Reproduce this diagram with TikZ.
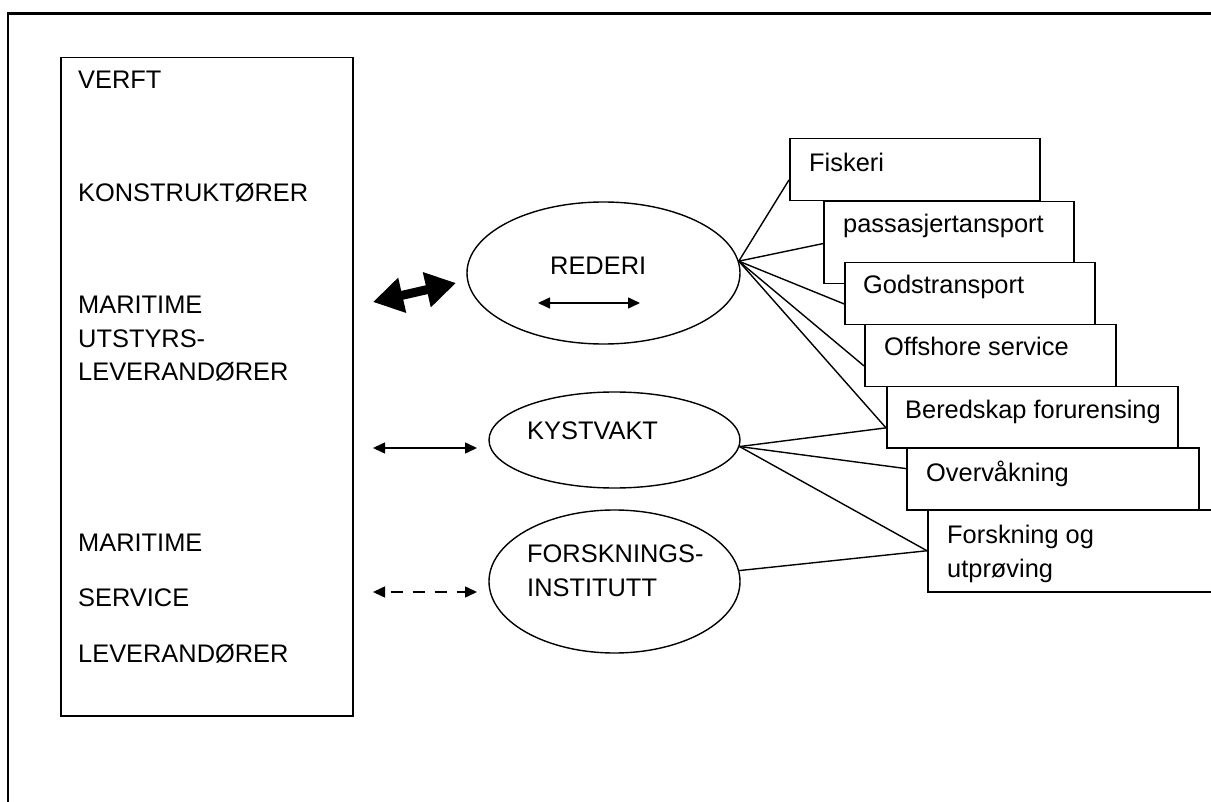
\documentclass[tikz,border=0pt]{standalone}
\usepackage{fontspec}
\setmainfont{Liberation Sans}
\usetikzlibrary{arrows.meta,calc,shapes.geometric}
\begin{document}
\begin{tikzpicture}[x=1pt,y=-1pt,
  txt/.style={inner sep=0pt, anchor=base west, font=\fontsize{25.4}{34}\selectfont},
  rbox/.style={draw, fill=white, line width=1.5pt, rectangle, inner sep=0pt, anchor=north west, minimum height=62pt},
  oval/.style={draw, ellipse, line width=1.4pt, inner sep=0pt},
  conn/.style={line width=1.4pt},
  biarrow/.style={line width=1.5pt, {Triangle[length=12pt,width=11pt]}-{Triangle[length=12pt,width=11pt]}}]
\clip (0,0) rectangle (1211,802);
\fill[white] (0,0) rectangle (1211,802);
% outer frame
\coordinate (ftl) at (8,13.5);
\coordinate (ftr) at (1220,13.5);
\coordinate (fbl) at (8,810);
\draw[line width=2.5pt] (ftr) -- (ftl) -- (fbl);
% left box
\node[draw, line width=1.5pt, inner sep=0pt, anchor=north west, minimum width=292pt, minimum height=658pt] (leftbox) at (60,57) {};
\node[txt] (t1) at (78,89) {VERFT};
\node[txt] (t2) at (78,202) {KONSTRUKTØRER};
\node[txt] (t3) at (78,314) {MARITIME};
\node[txt] (t4) at (78,347.5) {UTSTYRS-};
\node[txt] (t5) at (78,381) {LEVERANDØRER};
\node[txt] (t6) at (78,551) {MARITIME};
\node[txt] (t7) at (78,606) {SERVICE};
\node[txt] (t8) at (78,662) {LEVERANDØRER};
% ellipses
\node[oval, minimum width=273pt, minimum height=142pt] (rederi) at (603.5,273) {};
\node[oval, minimum width=251pt, minimum height=96pt] (kyst) at (614.5,440) {};
\node[oval, minimum width=251pt, minimum height=143pt] (forsk) at (614.5,581.5) {};
\node[txt] (rederitxt) at (550,274.5) {REDERI};
\node[txt] (kysttxt) at (527,439.5) {KYSTVAKT};
\node[txt] (forsktxta) at (527,562.8) {FORSKNINGS-};
\node[txt] (forsktxtb) at (527,596.8) {INSTITUTT};
% arrows
\coordinate (ta1) at (373,302);
\coordinate (ta2) at (456,283);
\draw[line width=9pt, {Triangle[length=30pt,width=34pt]}-{Triangle[length=30pt,width=34pt]}] (ta1) -- (ta2);
\coordinate (ra1) at (538,303);
\coordinate (ra2) at (640,303);
\draw[biarrow] (ra1) -- (ra2);
\coordinate (ka1) at (373,448);
\coordinate (ka2) at (477,448);
\draw[biarrow] (ka1) -- (ka2);
\coordinate (da1) at (373,592);
\coordinate (da2) at (477,592);
\draw[biarrow, dash pattern=on 12pt off 10pt, dash phase=16pt] (da1) -- (da2);
% right boxes
\node[rbox, minimum width=250pt] (fisk) at (789,138) {};
\node[rbox, minimum width=250pt, minimum height=82pt] (pass) at (823,201) {};
\node[rbox, minimum width=250pt] (gods) at (844,262) {};
\node[rbox, minimum width=251pt] (off) at (864,324) {};
\node[rbox, minimum width=291pt, minimum height=61pt] (bered) at (886,386) {};
\node[rbox, minimum width=292pt] (over) at (906,447) {};
\node[rbox, minimum width=330pt, minimum height=82pt] (fou) at (927,509) {};
\node[txt] (fisktxt) at ($(fisk.north west)+(20,34)$) {Fiskeri};
\node[txt] (passtxt) at ($(pass.north west)+(20,32)$) {passasjertansport};
\node[txt] (godstxt) at ($(gods.north west)+(19,32)$) {Godstransport};
\node[txt] (offtxt) at ($(off.north west)+(20,32)$) {Offshore service};
\node[txt] (beredtxt) at ($(bered.north west)+(19,33)$) {Beredskap forurensing};
\node[txt] (overtxt) at ($(over.north west)+(20,34)$) {Overvåkning};
\node[txt] (foutxta) at ($(fou.north west)+(20,34)$) {Forskning og};
\node[txt] (foutxtb) at ($(fou.north west)+(20,68)$) {utprøving};
% connectors
\draw[conn] (rederi.5) -- ($(fisk.north west)!0.66!(fisk.south west)$);
\draw[conn] (rederi.5) -- ($(pass.north west)!0.51!(pass.south west)$);
\draw[conn] (rederi.5) -- ($(gods.north west)!0.66!(gods.south west)$);
\draw[conn] (rederi.5) -- ($(off.north west)!0.66!(off.south west)$);
\draw[conn] (rederi.5) -- ($(bered.north west)!0.67!(bered.south west)$);
\draw[conn] (kyst.-3) -- ($(bered.north west)!0.67!(bered.south west)$);
\draw[conn] (kyst.-3) -- ($(over.north west)!0.34!(over.south west)$);
\draw[conn] (kyst.-3) -- ($(fou.north west)!0.5!(fou.south west)$);
\draw[conn] (forsk.5) -- ($(fou.north west)!0.5!(fou.south west)$);
\end{tikzpicture}
\end{document}
